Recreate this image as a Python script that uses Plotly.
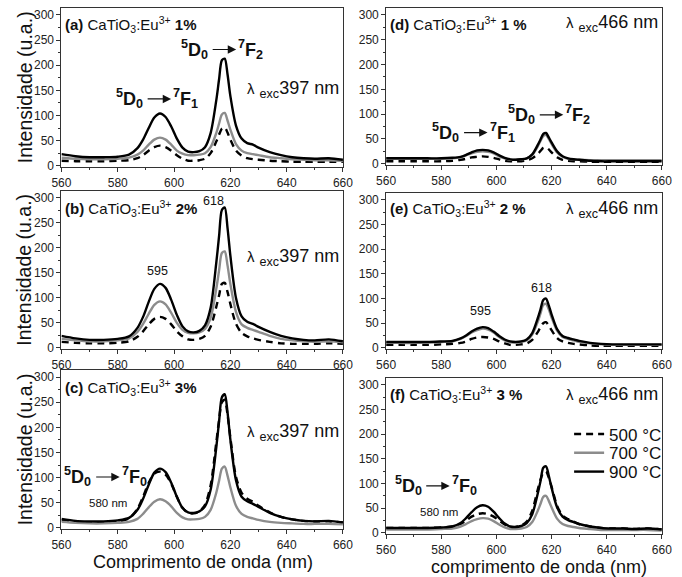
import plotly.graph_objects as go
from plotly.subplots import make_subplots

# Emission wavelength grid (nm)
WL = [560, 565, 570, 575, 580, 584, 587, 589, 591, 593, 595, 597, 599, 601, 603,
      605, 607, 609, 611, 613, 615, 616, 617, 618, 619, 620, 622, 624, 626, 628,
      630, 634, 638, 642, 646, 650, 655, 660]

# Emission intensities (u.a.) -- excitation 397 nm
A500 = [10, 9, 9, 9, 10, 11, 15, 21, 30, 37, 40, 37, 30, 21, 14, 10, 10, 11, 14, 25,
        48, 62, 74, 76, 66, 52, 30, 20, 15, 13, 12, 10, 9, 8, 8, 8, 8, 8]
A700 = [16, 14, 13, 13, 14, 16, 22, 30, 42, 52, 56, 52, 42, 30, 24, 21, 21, 22, 25, 37,
        65, 84, 102, 105, 90, 72, 43, 30, 25, 23, 21, 17, 15, 13, 12, 11, 11, 10]
A900 = [23, 19, 17, 17, 18, 22, 35, 52, 75, 96, 104, 97, 78, 54, 36, 28, 27, 29, 37, 65,
        130, 172, 210, 213, 182, 139, 80, 54, 45, 42, 36, 27, 21, 17, 15, 14, 15, 12]

B500 = [12, 10, 9, 9, 10, 13, 22, 33, 47, 58, 62, 58, 47, 33, 23, 17, 16, 18, 24, 42,
        82, 105, 128, 130, 112, 88, 48, 30, 23, 19, 16, 12, 9, 8, 8, 8, 9, 8]
B700 = [18, 15, 13, 13, 15, 19, 32, 48, 68, 86, 93, 87, 70, 50, 36, 30, 29, 31, 38, 60,
        118, 155, 190, 193, 165, 128, 72, 47, 40, 36, 32, 24, 18, 15, 13, 12, 13, 11]
B900 = [24, 19, 16, 16, 18, 23, 40, 62, 92, 118, 128, 120, 96, 66, 43, 33, 31, 34, 45, 80,
        170, 224, 276, 281, 240, 185, 100, 63, 52, 48, 42, 32, 24, 19, 16, 15, 17, 13]

C500 = [15, 12, 11, 11, 13, 19, 38, 62, 90, 108, 112, 106, 88, 62, 40, 30, 29, 33, 46, 85,
        170, 215, 250, 255, 225, 180, 102, 70, 58, 52, 44, 31, 22, 17, 14, 13, 13, 11]
C700 = [12, 10, 9, 9, 10, 12, 18, 28, 41, 52, 57, 53, 43, 30, 21, 17, 17, 18, 22, 36,
        70, 94, 118, 122, 104, 81, 44, 28, 22, 19, 16, 12, 10, 9, 8, 8, 8, 7]
C900 = [18, 14, 13, 13, 15, 20, 36, 58, 86, 110, 118, 111, 90, 62, 40, 31, 30, 33, 43, 76,
        160, 212, 260, 266, 230, 176, 95, 62, 53, 48, 42, 30, 22, 17, 14, 13, 14, 11]

# Emission intensities (u.a.) -- excitation 466 nm
D500 = [5, 5, 5, 5, 5, 6, 8, 10, 13, 14, 15, 14, 12, 9, 6, 5, 5, 5, 7, 11,
        20, 26, 32, 33, 29, 23, 13, 8, 6, 5, 5, 4, 4, 4, 4, 4, 4, 4]
D700 = [10, 10, 10, 10, 10, 11, 13, 17, 21, 24, 25, 24, 21, 15, 11, 8, 8, 9, 11, 18,
        35, 46, 56, 58, 50, 40, 23, 14, 10, 9, 8, 7, 7, 7, 7, 7, 7, 7]
D900 = [11, 11, 11, 11, 11, 12, 14, 18, 23, 27, 28, 27, 23, 17, 12, 9, 8, 9, 11, 19,
        38, 49, 60, 62, 53, 43, 25, 15, 11, 9, 8, 6, 5, 5, 5, 5, 5, 5]

E500 = [6, 6, 6, 6, 7, 8, 10, 13, 18, 21, 22, 21, 18, 13, 9, 6, 6, 7, 9, 16,
        32, 42, 50, 52, 45, 36, 20, 13, 10, 8, 7, 5, 4, 4, 4, 4, 4, 4]
E700 = [10, 10, 10, 11, 12, 13, 18, 24, 31, 36, 39, 37, 31, 22, 15, 11, 11, 12, 15, 27,
        53, 70, 87, 89, 78, 62, 35, 22, 18, 15, 12, 9, 7, 6, 6, 6, 6, 6]
E900 = [12, 12, 12, 12, 13, 14, 19, 25, 33, 39, 42, 40, 33, 24, 17, 13, 12, 13, 17, 30,
        60, 78, 97, 100, 86, 68, 38, 24, 20, 17, 14, 10, 8, 7, 7, 7, 7, 7]

F500 = [10, 10, 10, 10, 11, 13, 18, 25, 33, 38, 40, 38, 33, 25, 17, 12, 12, 15, 23, 45,
        88, 108, 122, 124, 112, 94, 55, 35, 28, 23, 18, 13, 10, 9, 9, 8, 9, 7]
F700 = [7, 7, 7, 7, 8, 9, 13, 18, 24, 28, 30, 29, 24, 17, 11, 8, 8, 9, 12, 22,
        45, 59, 73, 75, 65, 52, 29, 18, 14, 12, 10, 8, 6, 6, 6, 6, 6, 5]
F900 = [10, 10, 10, 10, 11, 13, 20, 30, 42, 52, 56, 53, 43, 30, 19, 13, 12, 14, 20, 38,
        80, 105, 132, 135, 116, 92, 52, 33, 26, 22, 18, 13, 10, 9, 9, 8, 9, 7]

TEMPS = ["500 °C", "700 °C", "900 °C"]
PANELS = {  # (row, col): series for 500, 700, 900 °C
    (1, 1): [A500, A700, A900], (2, 1): [B500, B700, B900], (3, 1): [C500, C700, C900],
    (1, 2): [D500, D700, D900], (2, 2): [E500, E700, E900], (3, 2): [F500, F700, F900],
}
STYLES = [dict(color="black", width=2.4, dash="7px,5px"),
          dict(color="#8c8c8c", width=2.4),
          dict(color="black", width=2.4)]
LEGENDS = ["legend", "legend2", "legend3"]

W, H = 682, 577
FONT = "Arial, Liberation Sans, sans-serif"


def px(x):
    return x / W


def py(y):
    return 1 - y / H


fig = make_subplots(rows=3, cols=2)

for (r, c), series in PANELS.items():
    for name, ys, st, lg in zip(TEMPS, series, STYLES, LEGENDS):
        fig.add_trace(go.Scatter(x=WL, y=ys, mode="lines", name=name,
                                 line=dict(shape="spline", smoothing=0.8, **st),
                                 showlegend=(r, c) == (3, 2), legend=lg),
                      row=r, col=c)

# plot areas in pixels: (left, right, top, bottom)
BOXES = {(1, 1): (53, 343, 8, 169), (2, 1): (53, 343, 193, 353), (3, 1): (53, 343, 374, 535),
         (1, 2): (387.5, 671.5, 8, 167), (2, 2): (387.5, 671.5, 195, 353), (3, 2): (387.5, 671.5, 382, 540)}

axis_common = dict(showline=True, linecolor="#333", linewidth=1, mirror=True,
                   ticks="outside", ticklen=4, tickwidth=1, tickcolor="#333",
                   showgrid=False, zeroline=False,
                   tickfont=dict(family=FONT, size=12, color="#222"))

for (r, c), (x0, x1, y0, y1) in BOXES.items():
    fig.update_xaxes(domain=[px(x0), px(x1)], range=[560, 660], dtick=20, tick0=560,
                     minor=dict(dtick=10, ticklen=2, ticks="outside", tickcolor="#333"),
                     row=r, col=c, **axis_common)
    fig.update_yaxes(domain=[py(y1), py(y0)], range=[-3, 314], dtick=50, tick0=0,
                     minor=dict(dtick=25, ticklen=2, ticks="outside", tickcolor="#333"),
                     row=r, col=c, **axis_common)

ann = []


def text(x, y, s, size, xanchor="left", yanchor="middle", color="#111"):
    ann.append(dict(x=px(x), y=py(y), xref="paper", yref="paper", text=s, showarrow=False,
                    xanchor=xanchor, yanchor=yanchor,
                    font=dict(family=FONT, size=size, color=color)))


def arrow(x_tail, x_head, y):
    ann.append(dict(x=px(x_head), y=py(y), xref="paper", yref="paper", text="",
                    showarrow=True, ax=x_tail - x_head, ay=0, arrowhead=2,
                    arrowsize=1.4, arrowwidth=1.2, arrowcolor="#111"))


def transition(x, y, lower):
    # ⁵D₀ → ⁷F_lower, x is the start of the arrow
    text(x - 2, y, "<b><sup>5</sup>D<sub>0</sub></b>", 18, xanchor="right")
    arrow(x, x + 25, y)
    text(x + 25, y, "<b><sup>7</sup>F<sub>%s</sub></b>" % lower, 18, xanchor="left")


# panel labels
labels = [((55, 25), "(a)", "1%"), ((55, 211), "(b)", "2%"), ((55, 392), "(c)", "3%"),
          ((389, 25), "(d)", "1 %"), ((389, 211), "(e)", "2 %"), ((389, 399), "(f)", "3 %")]
for (x, y), tag, conc in labels:
    text(x, y, "<b>%s</b> CaTiO<sub>3</sub>:Eu<sup>3+</sup> <b>%s</b>" % (tag, conc), 15)

# excitation wavelengths
lam = "<span style='font-size:15px'>λ</span> <sub>exc</sub>%s nm"
for (x, y), wl in [((341, 90), "397"), ((341, 260), "397"), ((341, 437), "397"),
                   ((670, 24), "466"), ((670, 212), "466"), ((670, 400), "466")]:
    text(x, y, lam % wl, 18, xanchor="right")

# transition assignments
transition(141, 100, "1")
transition(208, 50, "2")
transition(88, 482, "0")
transition(467, 134, "1")
transition(545, 116, "2")
transition(428, 491, "0")

# peak positions and 580 nm marks
text(210, 203, "618", 12.5, xanchor="center")
text(152, 274, "595", 12.5, xanchor="center")
text(548, 291, "618", 12.5, xanchor="center")
text(485, 314, "595", 12.5, xanchor="center")
text(101, 508, "580 nm", 11.5, xanchor="center")
text(442, 517, "580 nm", 11.5, xanchor="center")

# axis titles
for yc in [88.5, 273, 454.5]:
    ann.append(dict(x=px(15), y=py(yc), xref="paper", yref="paper",
                    text="Intensidade (u.a.)", showarrow=False, textangle=-90,
                    xanchor="center", yanchor="middle",
                    font=dict(family=FONT, size=19.5, color="#111")))
text(199, 568, "Comprimento de onda (nm)", 18, xanchor="center")
text(545, 573, "comprimento de onda (nm)", 18, xanchor="center")

legend_style = dict(xanchor="left", yanchor="middle", bgcolor="rgba(0,0,0,0)",
                    font=dict(family=FONT, size=17, color="#111"), itemwidth=30)
fig.update_layout(
    width=W, height=H, margin=dict(l=0, r=0, t=0, b=0),
    paper_bgcolor="white", plot_bgcolor="white",
    annotations=ann,
    showlegend=True,
    legend=dict(x=px(576), y=py(439), **legend_style),
    legend2=dict(x=px(576), y=py(458), **legend_style),
    legend3=dict(x=px(576), y=py(477), **legend_style),
)

fig.write_html("out.html")
